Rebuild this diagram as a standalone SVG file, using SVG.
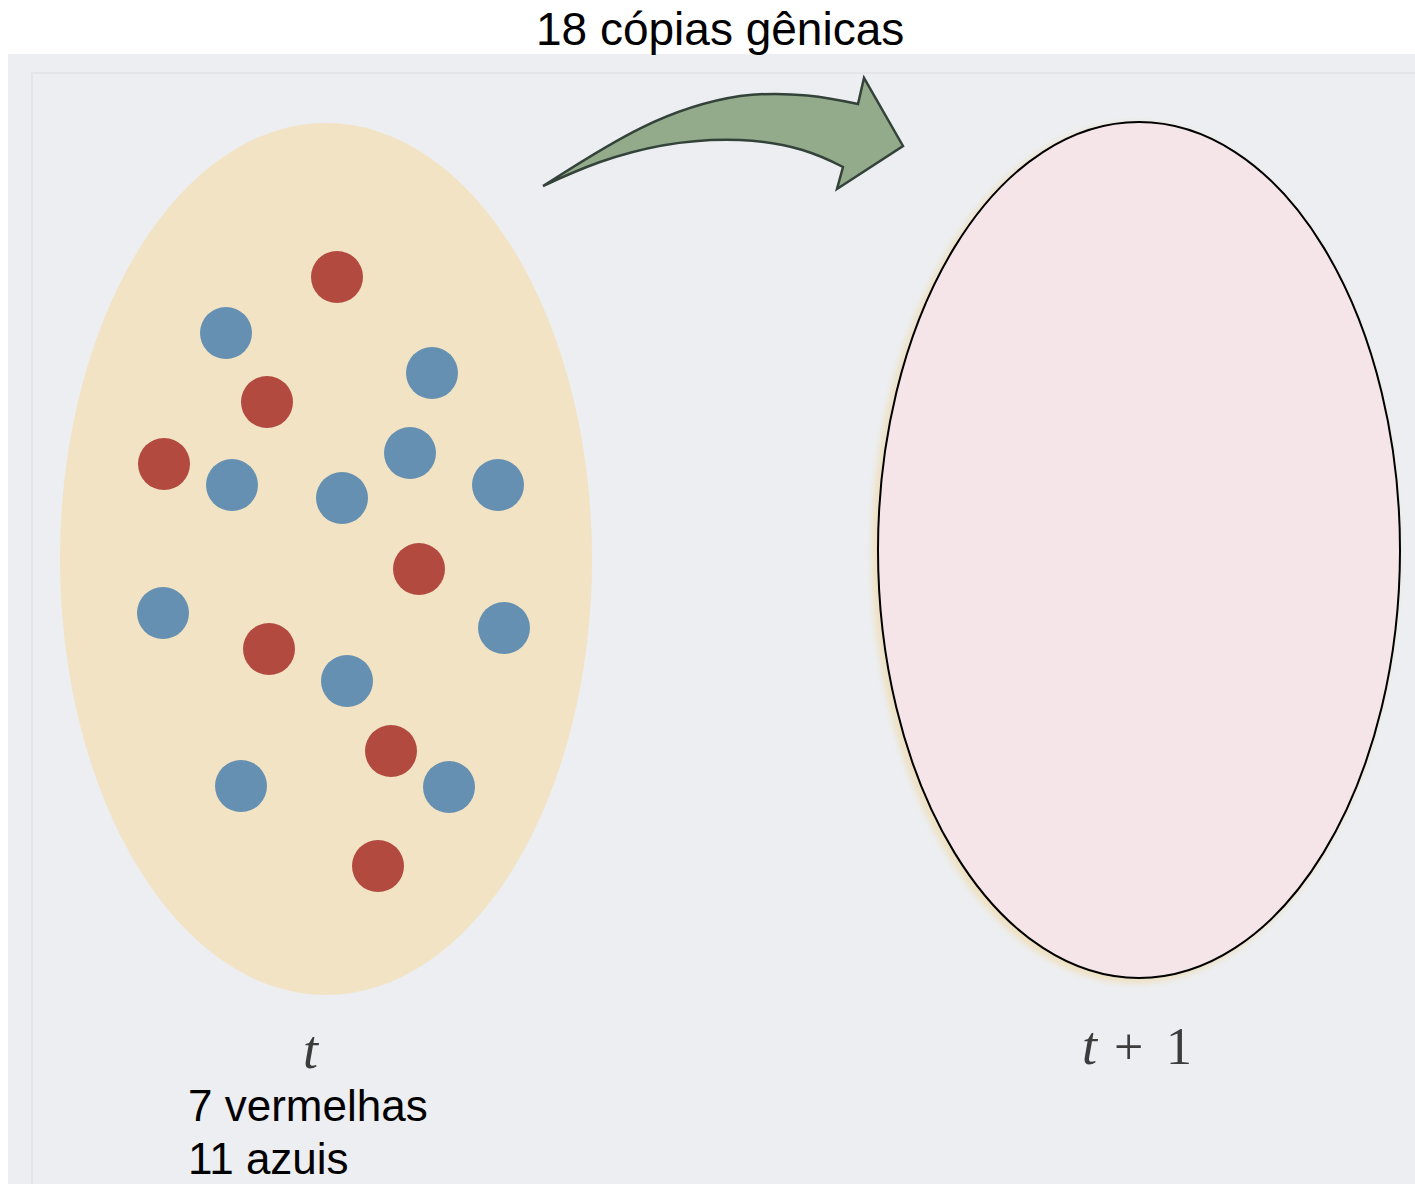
<svg xmlns="http://www.w3.org/2000/svg" width="1415" height="1184" viewBox="0 0 1415 1184">
  <defs>
    <style>
      .lbl { font-family: "Liberation Sans", Arial, sans-serif; font-size: 46px; fill: #000; }
      .cnt { font-family: "Liberation Sans", Arial, sans-serif; font-size: 44px; fill: #000; }
      .math { font-family: "Liberation Serif", "Times New Roman", serif; font-style: italic; font-size: 54px; fill: #3c3c3c; }
      .mathr { font-family: "Liberation Serif", "Times New Roman", serif; font-size: 52px; fill: #3c3c3c; }
      .red { fill: #b24a3f; }
      .blue { fill: #6590b1; }
    </style>
    <filter id="soft" x="-5%" y="-5%" width="110%" height="110%">
      <feGaussianBlur stdDeviation="3"/>
    </filter>
  </defs>

  <!-- page / scan background -->
  <rect x="0" y="0" width="1415" height="1184" fill="#ffffff"/>
  <rect x="8" y="54" width="1407" height="1130" fill="#eceef1"/>
  <rect x="32" y="73" width="1400" height="1130" fill="none" stroke="#e3e5e8" stroke-width="2"/>

  <!-- title -->
  <text class="lbl" x="536" y="45">18 cópias gênicas</text>

  <!-- population at t -->
  <g id="pop-t">
    <ellipse cx="326" cy="559" rx="266" ry="436" fill="#f2e3c4"/>
    <circle class="red" cx="337" cy="277" r="26"/>
    <circle class="blue" cx="226" cy="333" r="26"/>
    <circle class="blue" cx="432" cy="373" r="26"/>
    <circle class="red" cx="267" cy="402" r="26"/>
    <circle class="red" cx="164" cy="464" r="26"/>
    <circle class="blue" cx="410" cy="453" r="26"/>
    <circle class="blue" cx="232" cy="485" r="26"/>
    <circle class="blue" cx="342" cy="498" r="26"/>
    <circle class="blue" cx="498" cy="485" r="26"/>
    <circle class="red" cx="419" cy="569" r="26"/>
    <circle class="blue" cx="163" cy="613" r="26"/>
    <circle class="blue" cx="504" cy="628" r="26"/>
    <circle class="red" cx="269" cy="649" r="26"/>
    <circle class="blue" cx="347" cy="681" r="26"/>
    <circle class="red" cx="391" cy="751" r="26"/>
    <circle class="blue" cx="241" cy="786" r="26"/>
    <circle class="blue" cx="449" cy="787" r="26"/>
    <circle class="red" cx="378" cy="866" r="26"/>
  </g>

  <!-- population at t+1 -->
  <g id="pop-t1">
    <ellipse cx="1135" cy="553" rx="263" ry="430" fill="#efe0c0" filter="url(#soft)"/>
    <ellipse cx="1139" cy="550" rx="261" ry="428" fill="#f5e5e8" stroke="#000" stroke-width="2"/>
  </g>

  <!-- connector: curved arrow -->
  <g id="connectors">
    <path d="M543,186 C600,150 660,108 740,96 C790,90 830,98 858,104 L864,78 L903,146 L837,189 L843,167 C820,155 790,142 740,140 C690,138 640,148 600,162 C575,171 558,179 543,186 Z"
          fill="#93aa8b" stroke="#34433a" stroke-width="2.5" stroke-linejoin="miter"/>
  </g>

  <!-- labels -->
  <text class="math" x="303" y="1068">t</text>
  <text class="math" x="1082" y="1064">t</text>
  <text class="mathr" x="1114" y="1064">+</text>
  <text class="mathr" x="1166" y="1064">1</text>
  <text class="cnt" x="188" y="1121">7 vermelhas</text>
  <text class="cnt" x="188" y="1174">11 azuis</text>
</svg>
